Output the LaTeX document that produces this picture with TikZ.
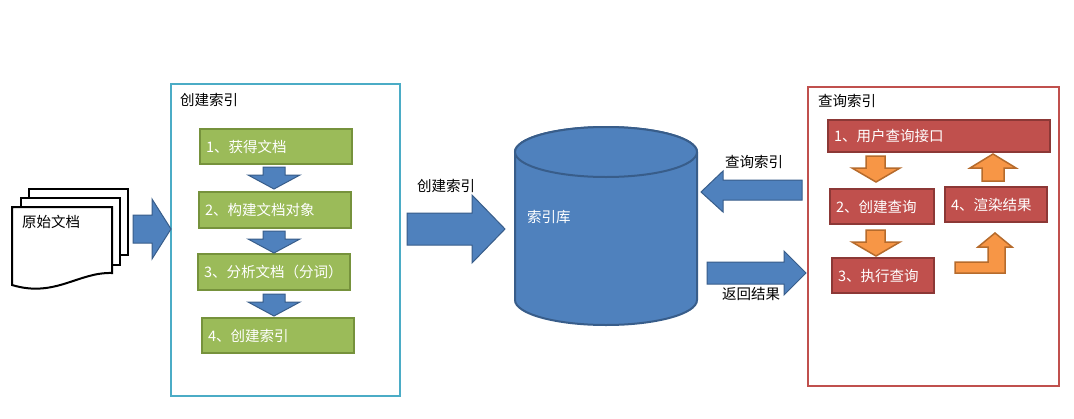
\documentclass[tikz,border=0pt]{standalone}
\usepackage{fontspec}
\setmainfont{Noto Sans CJK SC}
\usetikzlibrary{positioning}
\definecolor{blueFill}{RGB}{79,129,189}
\definecolor{blueLine}{RGB}{56,93,138}
\definecolor{greenFill}{RGB}{155,187,89}
\definecolor{greenLine}{RGB}{118,146,60}
\definecolor{redFill}{RGB}{192,80,77}
\definecolor{redLine}{RGB}{140,56,54}
\definecolor{orangeFill}{RGB}{247,150,70}
\definecolor{orangeLine}{RGB}{182,107,44}
\definecolor{frameBlue}{RGB}{75,172,198}
\tikzset{
  label text/.style={font=\fontsize{14.5}{16}\selectfont, inner sep=0pt, anchor=west},
  green step/.style={draw=greenLine, line width=2pt, fill=greenFill, text=white, font=\fontsize{14.5}{16}\selectfont},
  red step/.style={draw=redLine, line width=2pt, fill=redFill, text=white, font=\fontsize{14.5}{16}\selectfont},
  blue arrow/.style={draw=blueLine, line width=1pt, fill=blueFill, line join=miter},
  orange arrow/.style={draw=orangeLine, line width=1.5pt, fill=orangeFill, line join=miter},
  sheet/.style={draw=black, line width=2pt, fill=white}
}
\begin{document}
\begin{tikzpicture}[x=1pt,y=-1pt]
\path[use as bounding box, fill=white] (0,0) rectangle (1074,418);

% source documents
\draw[sheet] (29,189) rectangle (128,255);
\draw[sheet] (21,198) rectangle (120,265);
\draw[sheet] (12,207) -- (112,207) -- (112,273)
  .. controls (78,272) and (55,298) .. (12,285) -- cycle;
\node[label text] (docs) at (22,222) {原始文档};

% frames
\draw[frameBlue, line width=2pt] (171,84) rectangle (400,396);
\node[label text] (buildTitle) at (180,100) {创建索引};
\draw[redFill, line width=2pt] (808,87) rectangle (1059,386);
\node[label text] (queryTitle) at (818,101) {查询索引};

% build steps
\node[green step, minimum width=152pt, minimum height=35pt, text width=140pt] (g1) at (276,146.5) {1、获得文档};
\node[green step, minimum width=152pt, minimum height=36pt, text width=140pt] (g2) at (275,210) {2、构建文档对象};
\node[green step, minimum width=152pt, minimum height=36pt, text width=140pt] (g3) at (274,272) {3、分析文档（分词）};
\node[green step, minimum width=152pt, minimum height=35pt, text width=140pt] (g4) at (278,335.5) {4、创建索引};

% down arrows between build steps
\foreach \y in {167,231,294} {
  \draw[blue arrow] (263,\y) -- (285,\y) -- (285,\y+8) -- (300,\y+8) -- (274,\y+22)
    -- (248,\y+8) -- (263,\y+8) -- cycle;
}

% into the build frame
\draw[blue arrow] (133,215) -- (152,215) -- (152,199) -- (171,229) -- (152,259)
  -- (152,243) -- (133,243) -- cycle;

% index store
\draw[draw=blueLine, line width=2pt, fill=blueFill] (515,152) -- (515,300)
  arc[start angle=180, end angle=0, x radius=91, y radius=25] -- (697,152)
  arc[start angle=0, end angle=-180, x radius=91, y radius=25];
\draw[draw=blueLine, line width=2pt, fill=blueFill] (606,152) ellipse[x radius=91, y radius=25];
\node[label text, text=white] (store) at (527,217) {索引库};

% build index arrow
\draw[blue arrow] (407,213) -- (472,213) -- (472,195) -- (505,229) -- (472,263)
  -- (472,245) -- (407,245) -- cycle;
\node[label text] (buildLabel) at (417,186) {创建索引};

% query / result arrows
\draw[blue arrow] (802,180) -- (723,180) -- (723,171) -- (701,192) -- (723,212)
  -- (723,200) -- (802,200) -- cycle;
\node[label text] (queryLabel) at (725,162) {查询索引};
\draw[blue arrow] (707,262) -- (784,262) -- (784,251) -- (806,273) -- (784,295)
  -- (784,284) -- (707,284) -- cycle;
\node[label text] (resultLabel) at (722,294) {返回结果};

% query steps
\node[red step, minimum width=222pt, minimum height=32pt, text width=210pt] (r1) at (939,136) {1、用户查询接口};
\node[red step, minimum width=104pt, minimum height=35pt, text width=92pt] (r2) at (882,206.5) {2、创建查询};
\node[red step, minimum width=102pt, minimum height=35pt, text width=90pt] (r3) at (883,275.5) {3、执行查询};
\node[red step, minimum width=102pt, minimum height=35pt, text width=90pt] (r4) at (996,204.5) {4、渲染结果};

% orange arrows
\foreach \y in {156,230} {
  \draw[orange arrow] (866,\y) -- (885,\y) -- (885,\y+12) -- (900,\y+12) -- (876,\y+26)
    -- (852,\y+12) -- (866,\y+12) -- cycle;
}
\draw[orange arrow] (982,181) -- (1004,181) -- (1004,168) -- (1016,168) -- (993,154)
  -- (970,168) -- (982,168) -- cycle;
\draw[orange arrow] (955,262) -- (988,262) -- (988,247) -- (978,247) -- (995,233)
  -- (1012,247) -- (1005,247) -- (1005,273) -- (955,273) -- cycle;
\end{tikzpicture}
\end{document}
